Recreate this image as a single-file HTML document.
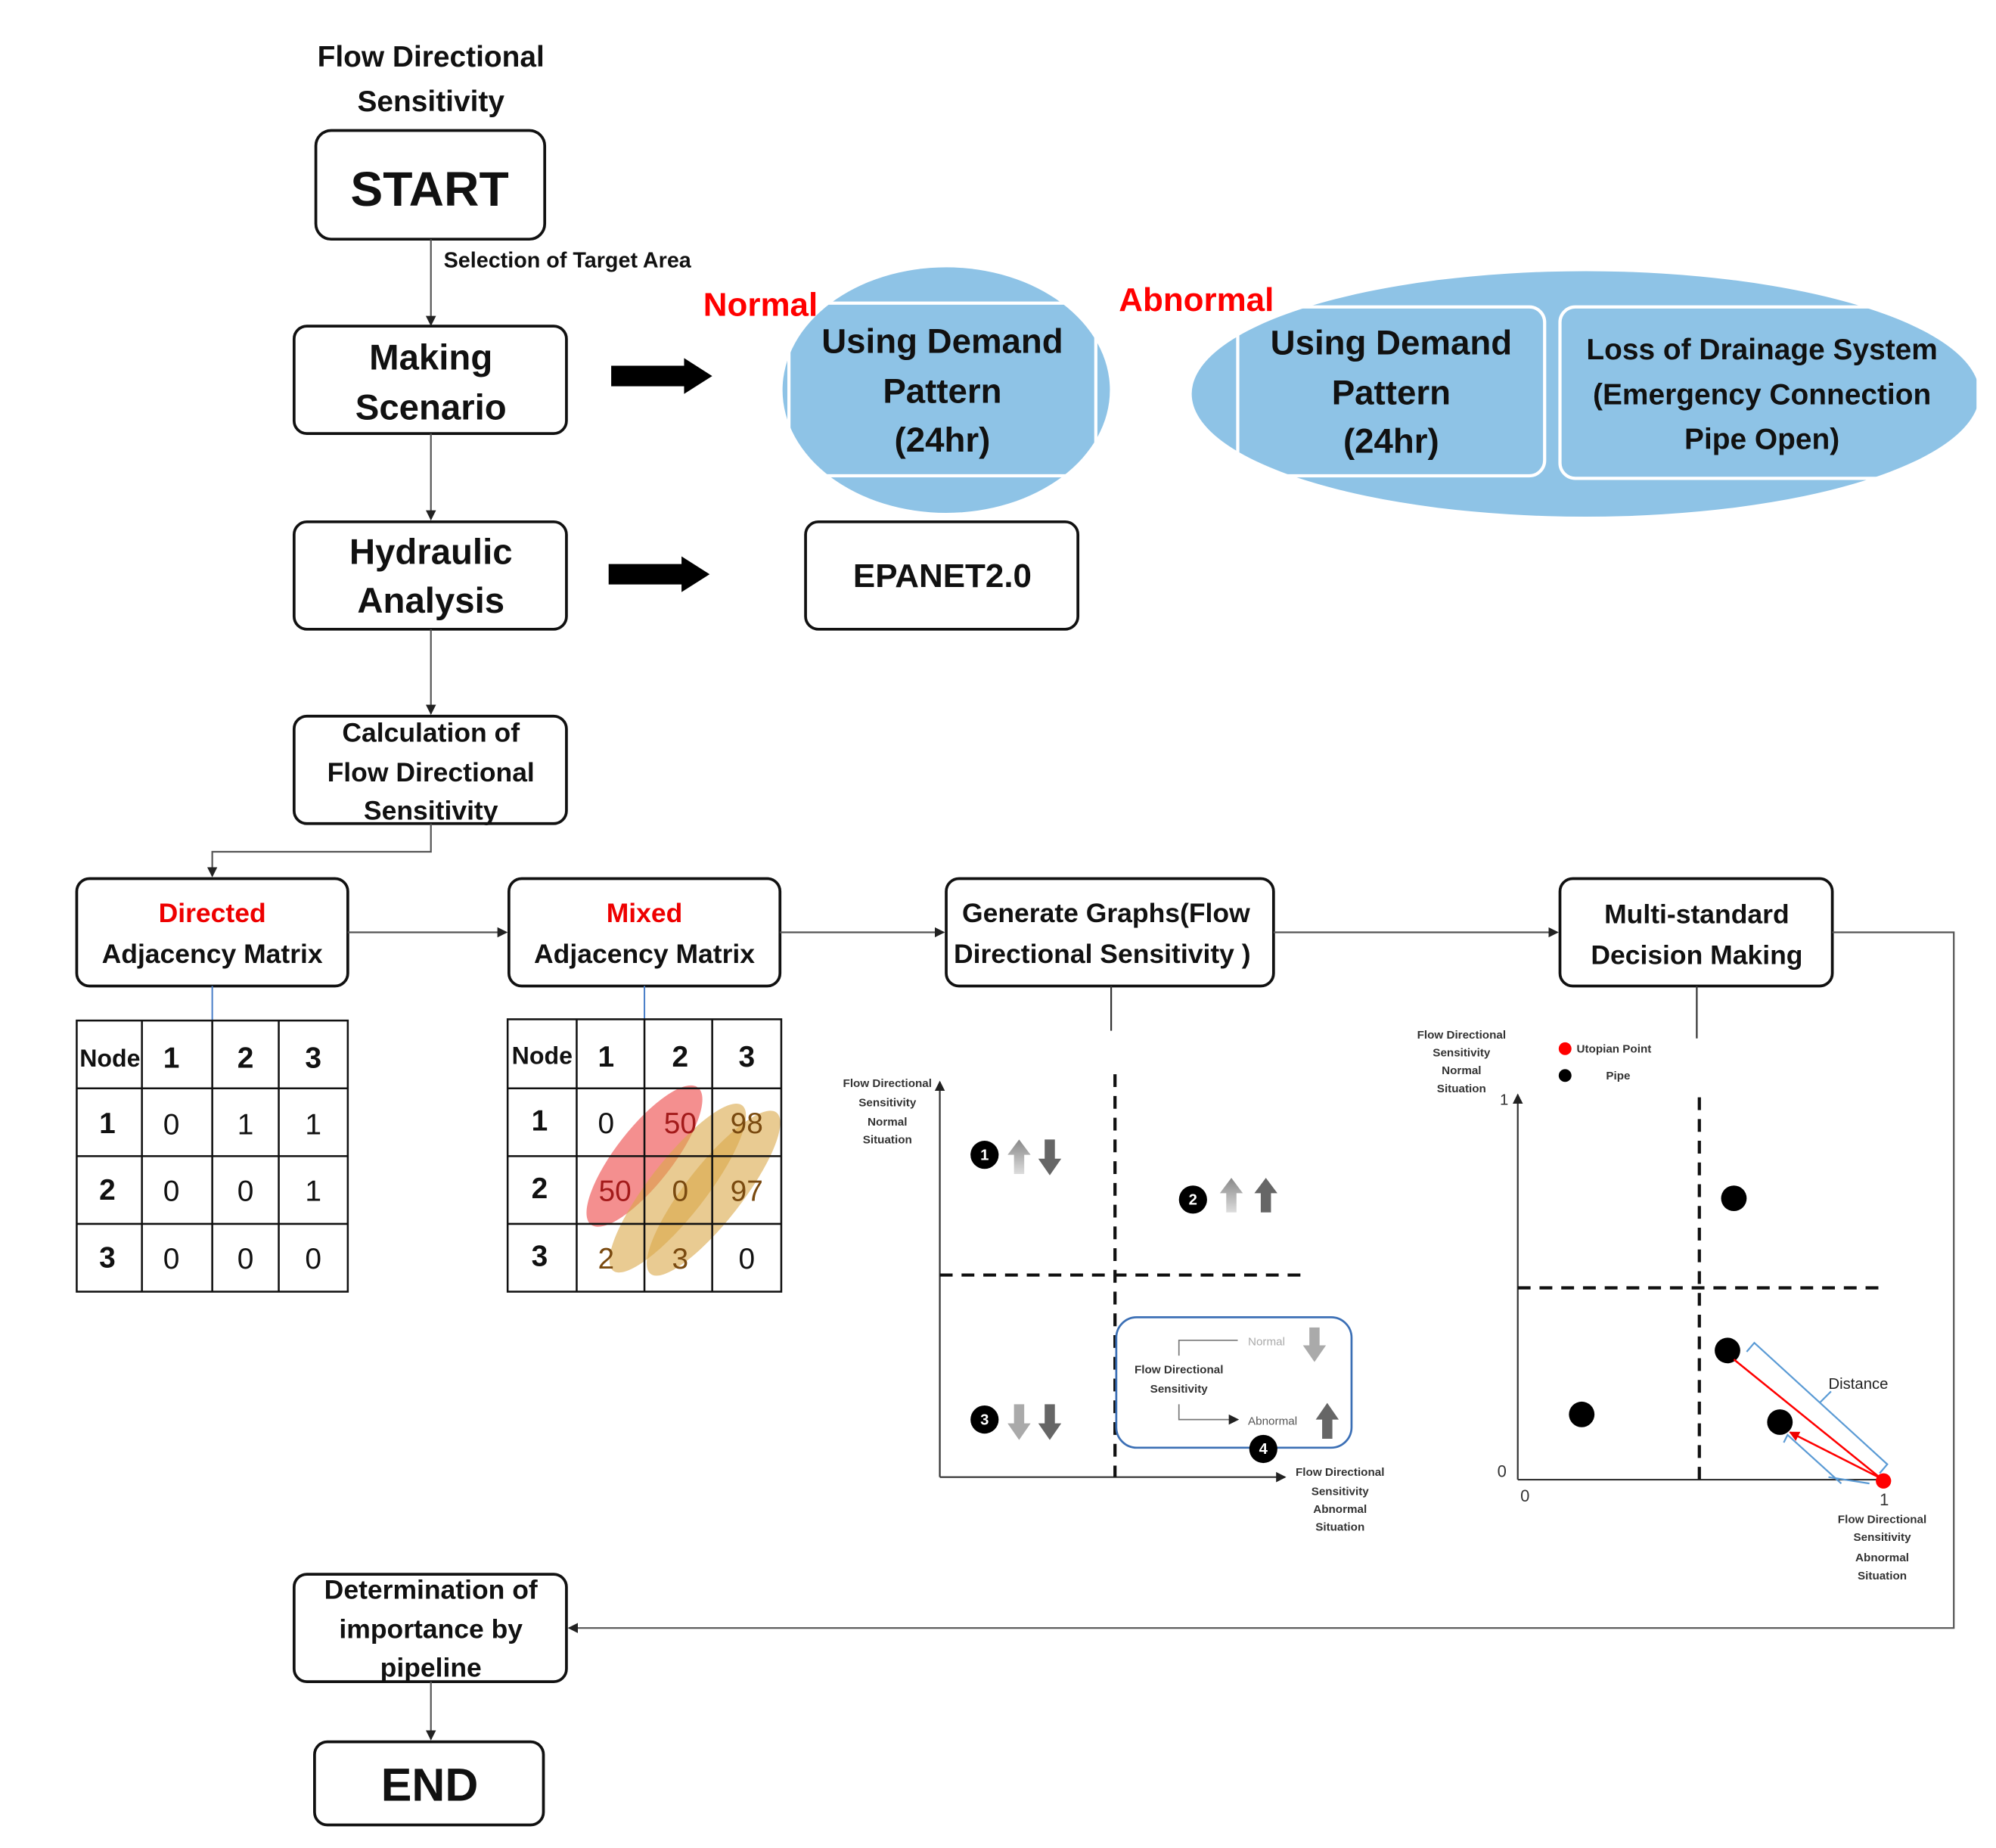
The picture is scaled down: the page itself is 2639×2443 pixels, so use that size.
<!DOCTYPE html>
<html><head><meta charset="utf-8"><style>html,body{margin:0;padding:0;background:#fff}svg{display:block}text{font-family:"Liberation Sans",sans-serif}</style></head><body>
<svg width="2639" height="2443" viewBox="0 0 1561 1445" xmlns="http://www.w3.org/2000/svg">
<defs>
<marker id="a" markerWidth="8" markerHeight="8" refX="7" refY="4" orient="auto" markerUnits="userSpaceOnUse"><path d="M0,0 L8,4 L0,8z" fill="#222"/></marker>
<marker id="r" markerWidth="8" markerHeight="8" refX="7" refY="4" orient="auto" markerUnits="userSpaceOnUse"><path d="M0,0 L8,4 L0,8z" fill="#e00"/></marker>
<linearGradient id="g1" x1="0" y1="1" x2="0" y2="0"><stop offset="0" stop-color="#ddd"/><stop offset="1" stop-color="#888"/></linearGradient>
</defs>
<rect width="1561" height="1445" fill="#fff"/>
<g font-weight="bold" fill="#111" text-anchor="middle">
<text x="337" y="52" font-size="23">Flow Directional</text>
<text x="337" y="87" font-size="23">Sensitivity</text>
</g>
<g fill="none" stroke="#111" stroke-width="2.2">
<rect x="247" y="102" width="179" height="85" rx="12"/>
<rect x="230" y="255" width="213" height="84" rx="10"/>
<rect x="230" y="408" width="213" height="84" rx="10"/>
<rect x="230" y="560" width="213" height="84" rx="10"/>
<rect x="630" y="408" width="213" height="84" rx="10"/>
<rect x="60" y="687" width="212" height="84" rx="10"/>
<rect x="398" y="687" width="212" height="84" rx="10"/>
<rect x="740" y="687" width="256" height="84" rx="10"/>
<rect x="1220" y="687" width="213" height="84" rx="10"/>
<rect x="230" y="1231" width="213" height="84" rx="10"/>
<rect x="246" y="1362" width="179" height="65" rx="10"/>
</g>
<g stroke="#555" stroke-width="1.3" fill="none" marker-end="url(#a)">
<path d="M337,187 V254"/>
<path d="M337,339 V406"/>
<path d="M337,492 V558"/>
<path d="M337,644 V666 H166 V685"/>
<path d="M272,729 H396"/>
<path d="M610,729 H738"/>
<path d="M996,729 H1218"/>
<path d="M1433,729 H1528 V1273 H445"/>
<path d="M337,1315 V1360"/>
</g>
<path d="M869,771 V806 M1327,771 V812" stroke="#333" stroke-width="1.3"/>
<path d="M166,771 V798 M504,771 V798" stroke="#4a7fc8" stroke-width="1.2"/>
<text x="347" y="209" font-size="17" font-weight="bold" fill="#111">Selection of Target Area</text>
<g font-weight="bold" fill="#111" text-anchor="middle">
<text x="336" y="161" font-size="38">START</text>
<text x="337" y="289" font-size="28">Making</text>
<text x="337" y="328" font-size="28">Scenario</text>
<text x="337" y="441" font-size="28">Hydraulic</text>
<text x="337" y="479" font-size="28">Analysis</text>
<text x="337" y="580" font-size="21">Calculation  of</text>
<text x="337" y="611" font-size="21">Flow Directional</text>
<text x="337" y="641" font-size="21">Sensitivity</text>
<text x="737" y="459" font-size="26">EPANET2.0</text>
<text x="166" y="721" font-size="21" fill="#e00">Directed</text>
<text x="166" y="753" font-size="21">Adjacency Matrix</text>
<text x="504" y="721" font-size="21" fill="#e00">Mixed</text>
<text x="504" y="753" font-size="21">Adjacency Matrix</text>
<text x="865" y="721" font-size="21">Generate Graphs(Flow</text>
<text x="862" y="753" font-size="21">Directional Sensitivity )</text>
<text x="1327" y="722" font-size="21">Multi-standard</text>
<text x="1327" y="754" font-size="21">Decision Making</text>
<text x="337" y="1250" font-size="21">Determination  of</text>
<text x="337" y="1281" font-size="21">importance by</text>
<text x="337" y="1311" font-size="21">pipeline</text>
<text x="336" y="1408" font-size="36">END</text>
</g>
<!-- big arrows -->
<path d="M478,286 H535 V280 L557,294 L535,308 V302 H478z" fill="#000"/>
<path d="M476,441 H533 V435 L555,449 L533,463 V457 H476z" fill="#000"/>
<!-- ellipses -->
<ellipse cx="740" cy="305" rx="128" ry="96" fill="#8ec3e6"/>
<rect x="617" y="237" width="240" height="135" fill="none" stroke="#fff" stroke-width="2.5"/>
<ellipse cx="1240" cy="308" rx="308" ry="96" fill="#8ec3e6"/>
<rect x="968" y="240" width="240" height="132" rx="12" fill="none" stroke="#fff" stroke-width="2.5"/>
<rect x="1220" y="240" width="327" height="134" rx="12" fill="none" stroke="#fff" stroke-width="2.5"/>
<g font-weight="bold" fill="#111" text-anchor="middle" font-size="27">
<text x="737" y="276">Using Demand</text>
<text x="737" y="315">Pattern</text>
<text x="737" y="353">(24hr)</text>
<text x="1088" y="277">Using Demand</text>
<text x="1088" y="316">Pattern</text>
<text x="1088" y="354">(24hr)</text>
</g>
<g font-weight="bold" fill="#111" text-anchor="middle" font-size="23">
<text x="1378" y="281">Loss of Drainage System</text>
<text x="1378" y="316">(Emergency Connection</text>
<text x="1378" y="351">Pipe Open)</text>
</g>
<text x="550" y="247" font-size="26" font-weight="bold" fill="#f00">Normal</text>
<text x="875" y="243" font-size="26" font-weight="bold" fill="#f00">Abnormal</text>
<!-- directed table -->
<g stroke="#111" stroke-width="1.5" fill="none">
<rect x="60" y="798" width="212" height="212"/>
<path d="M111,798V1010M166,798V1010M218,798V1010M60,851H272M60,904H272M60,957H272"/>
</g>
<g font-size="23" fill="#111" text-anchor="middle">
<text x="86" y="834" font-size="19" font-weight="bold">Node</text>
<text x="134" y="835" font-weight="bold">1</text><text x="192" y="835" font-weight="bold">2</text><text x="245" y="835" font-weight="bold">3</text>
<text x="84" y="886" font-weight="bold">1</text><text x="134" y="887">0</text><text x="192" y="887">1</text><text x="245" y="887">1</text>
<text x="84" y="938" font-weight="bold">2</text><text x="134" y="939">0</text><text x="192" y="939">0</text><text x="245" y="939">1</text>
<text x="84" y="991" font-weight="bold">3</text><text x="134" y="992">0</text><text x="192" y="992">0</text><text x="245" y="992">0</text>
</g>
<!-- mixed table -->
<ellipse cx="504" cy="904" rx="68" ry="22" transform="rotate(-52 504 904)" fill="#f06a6a" opacity="0.75"/>
<ellipse cx="530" cy="929" rx="82" ry="22" transform="rotate(-52 530 929)" fill="#dba84a" opacity="0.6"/>
<ellipse cx="558" cy="933" rx="80" ry="22" transform="rotate(-52 558 933)" fill="#dba84a" opacity="0.6"/>
<g stroke="#111" stroke-width="1.5" fill="none">
<rect x="397" y="797" width="214" height="213"/>
<path d="M451,797V1010M504,797V1010M557,797V1010M397,851H611M397,904H611M397,957H611"/>
</g>
<g font-size="23" fill="#111" text-anchor="middle">
<text x="424" y="832" font-size="19" font-weight="bold">Node</text>
<text x="474" y="834" font-weight="bold">1</text><text x="532" y="834" font-weight="bold">2</text><text x="584" y="834" font-weight="bold">3</text>
<text x="422" y="884" font-weight="bold">1</text><text x="474" y="886">0</text><text x="532" y="886" fill="#a31a1a">50</text><text x="584" y="886" fill="#7a4a10">98</text>
<text x="422" y="937" font-weight="bold">2</text><text x="481" y="939" fill="#a31a1a">50</text><text x="532" y="939" fill="#7a4a10">0</text><text x="584" y="939" fill="#7a4a10">97</text>
<text x="422" y="990" font-weight="bold">3</text><text x="474" y="992" fill="#7a4a10">2</text><text x="532" y="992" fill="#7a4a10">3</text><text x="584" y="992">0</text>
</g>
<!-- graph 1 -->
<g stroke="#333" stroke-width="1.3" fill="none">
<path d="M735,1155 V846" marker-end="url(#a)"/>
<path d="M735,1155 H1005" marker-end="url(#a)"/>
</g>
<path d="M872,840 V1155 M735,997 H1020" stroke="#111" stroke-width="2.5" stroke-dasharray="10,7" fill="none"/>
<rect x="873" y="1030" width="184" height="102" rx="16" fill="none" stroke="#3b6fb5" stroke-width="1.6"/>
<g font-size="9" font-weight="bold" fill="#333" text-anchor="middle">
<text x="694" y="850">Flow Directional</text><text x="694" y="865">Sensitivity</text><text x="694" y="880">Normal</text><text x="694" y="894">Situation</text>
<text x="1048" y="1154">Flow Directional</text><text x="1048" y="1169">Sensitivity</text><text x="1048" y="1183">Abnormal</text><text x="1048" y="1197">Situation</text>
<text x="922" y="1074">Flow Directional</text><text x="922" y="1089">Sensitivity</text>
</g>
<path d="M922,1060 V1048 H968 M922,1098 V1110 H968" stroke="#777" fill="none" marker-end="url(#a)"/>
<text x="976" y="1052" font-size="9" fill="#aaa">Normal</text>
<text x="976" y="1114" font-size="9" fill="#555">Abnormal</text>
<g fill="#000">
<circle cx="770" cy="903" r="11"/><circle cx="933" cy="938" r="11"/><circle cx="770" cy="1110" r="11"/><circle cx="988" cy="1133" r="11"/>
</g>
<g fill="#fff" font-size="12" font-weight="bold" text-anchor="middle">
<text x="770" y="907">1</text><text x="933" y="942">2</text><text x="770" y="1114">3</text><text x="988" y="1137">4</text>
</g>
<g>
<path d="M793,918 V903 H788 L797,891 L806,903 H801 V918z" fill="url(#g1)"/>
<path d="M817,891 V906 H812 L821,919 L830,906 H825 V891z" fill="#666"/>
<path d="M959,948 V933 H954 L963,921 L972,933 H967 V948z" fill="url(#g1)"/>
<path d="M986,948 V933 H981 L990,921 L999,933 H994 V948z" fill="#666"/>
<path d="M793,1098 V1113 H788 L797,1126 L806,1113 H801 V1098z" fill="#aaa"/>
<path d="M817,1098 V1113 H812 L821,1126 L830,1113 H825 V1098z" fill="#666"/>
<path d="M1024,1038 V1052 H1019 L1028,1065 L1037,1052 H1032 V1038z" fill="#aaa"/>
<path d="M1034,1125 V1110 H1029 L1038,1097 L1047,1110 H1042 V1125z" fill="#666"/>
</g>
<!-- graph 2 -->
<g stroke="#333" stroke-width="1.3" fill="none">
<path d="M1187,1157 V856" marker-end="url(#a)"/>
<path d="M1187,1157 H1475"/>
</g>
<path d="M1329,858 V1157 M1187,1007 H1470" stroke="#111" stroke-width="2.5" stroke-dasharray="10,7" fill="none"/>
<g font-size="9" font-weight="bold" fill="#333" text-anchor="middle">
<text x="1143" y="812">Flow Directional</text><text x="1143" y="826">Sensitivity</text><text x="1143" y="840">Normal</text><text x="1143" y="854">Situation</text>
<text x="1472" y="1191">Flow Directional</text><text x="1472" y="1205">Sensitivity</text><text x="1472" y="1221">Abnormal</text><text x="1472" y="1235">Situation</text>
</g>
<text x="1233" y="823" font-size="9" font-weight="bold" fill="#333">Utopian Point</text>
<text x="1256" y="844" font-size="9" font-weight="bold" fill="#333">Pipe</text>
<circle cx="1224" cy="820" r="5" fill="#f00"/><circle cx="1224" cy="841" r="5" fill="#000"/>
<text x="1173" y="864" font-size="12" fill="#333">1</text>
<text x="1171" y="1155" font-size="13" fill="#333">0</text>
<text x="1189" y="1174" font-size="13" fill="#333">0</text>
<text x="1470" y="1177" font-size="13" fill="#333">1</text>
<g fill="#000">
<circle cx="1356" cy="937" r="10"/><circle cx="1351" cy="1056" r="10"/><circle cx="1237" cy="1106" r="10"/><circle cx="1392" cy="1112" r="10"/>
</g>
<path d="M1471,1156 L1356,1063 M1471,1156 L1400,1120" stroke="#f00" stroke-width="1.5" marker-end="url(#r)"/>
<path d="M1366,1057 L1372,1050 L1476,1145 L1470,1152 M1395,1128 L1398,1122 L1440,1160 M1430,1155 L1462,1160 M1423,1097 L1432,1088" stroke="#5b9bd5" stroke-width="1.3" fill="none"/>
<text x="1430" y="1086" font-size="12" fill="#222">Distance</text>
<circle cx="1473" cy="1158" r="6" fill="#f00"/>
</svg>
</body></html>
